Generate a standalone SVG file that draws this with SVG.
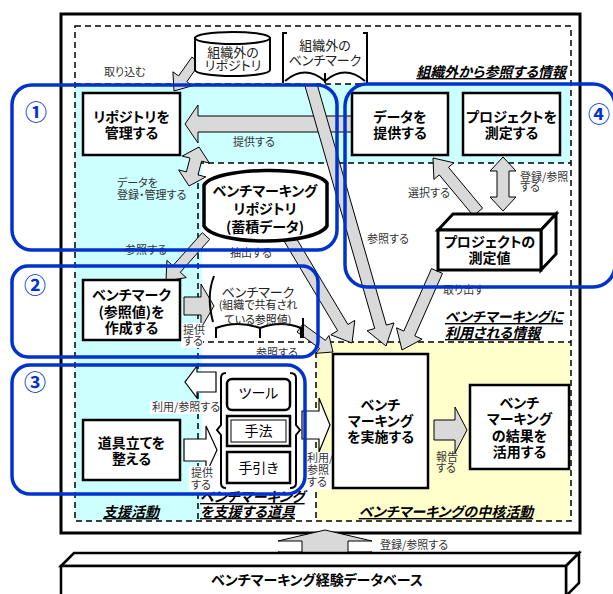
<svg xmlns="http://www.w3.org/2000/svg" width="613" height="594" viewBox="0 0 613 594">
<defs>
<style>
.t{font-family:"Noto Sans CJK JP","Noto Sans CJK SC",sans-serif;font-feature-settings:"palt"}
.nb{font-size:14px;font-weight:bold;text-anchor:middle;fill:#000}
.nn{font-size:13px;text-anchor:middle;fill:#222}
.lb{font-size:11px;fill:#333}
.sec{font-size:14px;font-weight:bold;font-style:italic;fill:#000;text-decoration:underline}
.num{font-size:22px;font-weight:bold;fill:#0033cc;text-anchor:middle}
.box{fill:#fff;stroke:#000;stroke-width:2.5}
.arr{fill:#d9d9d9;stroke:#000;stroke-width:1}
.warr{fill:#fff;stroke:#000;stroke-width:1.2}
.dash{fill:none;stroke:#000;stroke-width:1.5;stroke-dasharray:6 4}
.blue{fill:none;stroke:#0033cc;stroke-width:3.5}
.ln{fill:none;stroke:#000;stroke-width:2}
.wbg{fill:#fff}
</style>
</defs>
<rect width="613" height="594" fill="#fff"/>
<g id="background">
<rect x="61" y="14" width="519" height="519" fill="#fff" stroke="#000" stroke-width="3"/>
<path d="M75,84 H571 V163 H202 V521 H75 Z" fill="#ccffff"/>
<rect x="316" y="342" width="255" height="179" fill="#ffffcc"/>
<rect class="dash" x="75" y="26" width="496" height="495"/>
<path class="dash" d="M75,84 H571 M198,163 H571 M198,163 V521 M198,342 H571 M316,342 V521"/>
</g>
<g id="connectors">
<path class="arr" d="M200.1,62.9 L186.8,81.7 L192.5,85.7 L174,91 L172.9,71.8 L178.6,75.9 L191.9,57.1 Z"/>
<path class="arr" d="M352,116 H198 V105 L185,124 L198,143 V132 H352 Z"/>
<path class="arr" d="M199,147 L209.4,163.1 L201.6,161.1 L198,174.9 L205.8,176.9 L189,186 L178.6,169.9 L186.4,171.9 L190,158.1 L182.2,156.1 Z"/>
<path class="arr" d="M209.7,239.3 L180.3,272.3 L186.3,277.6 L166,281 L166.9,260.4 L172.9,265.7 L202.3,232.7 Z"/>
<path class="arr" d="M293.1,232.9 L347.9,324.5 L354.8,320.4 L352,343 L330.8,334.8 L337.7,330.7 L282.9,239.1 Z"/>
<path class="arr" d="M314.8,76.3 L386.3,325.1 L394,322.9 L386,346 L367,330.7 L374.7,328.5 L303.2,79.7 Z"/>
<path class="arr" d="M442.5,273.4 L414.8,335.9 L422.1,339.2 L402,350 L396.5,327.8 L403.8,331.1 L431.5,268.6 Z"/>
<path class="arr" d="M482.6,208.2 L448.5,167.3 L453.9,162.8 L433,158 L433.9,179.4 L439.3,174.9 L473.4,215.8 Z"/>
<path class="arr" d="M503,157 L516,171 H509 V197 H516 L503,211 L490,197 H497 V171 H490 Z"/>
<path class="arr" d="M184,297 H201 V284 L214,306 L201,328 V315 H184 Z"/>
<path class="arr" d="M302.9,324 L325.4,340.4 L329,335.5 L333,352 L316,353.3 L319.6,348.4 L297.1,332 Z"/>
<path class="warr" d="M216,372 H197 V366 L185,382 L197,398 V392 H216 Z"/>
<path class="warr" d="M184,439 H206 V426 L217,450 L206,474 V461 H184 Z"/>
<path class="warr" d="M302,411 H319 V398 L330,425 L319,452 V439 H302 Z"/>
<path class="arr" d="M434,420 H455 V407 L467,430 L455,453 V440 H434 Z"/>
<path class="arr" d="M325,530 L372,541 H348 V552 H372 L325,563 L278,552 H302 V541 H278 Z"/>
</g>
<g id="labels" class="t">
<text class="lb" x="104" y="76">取り込む</text>
<text class="lb" x="233" y="146">提供する</text>
<text class="lb" x="117" y="187">データを<tspan x="117" dy="12">登録・管理する</tspan></text>
<text class="lb" x="125" y="254">参照する</text>
<text class="lb" x="230" y="257">抽出する</text>
<text class="lb" x="367" y="243">参照する</text>
<text class="lb" x="408" y="197">選択する</text>
<text class="lb" x="520" y="181">登録/参照<tspan x="520" dy="10">する</tspan></text>
<text class="lb" x="443" y="294">取り出す</text>
<rect class="wbg" x="181" y="323" width="22" height="25"/>
<text class="lb" x="183" y="334">提供<tspan x="183" dy="11">する</tspan></text>
<text class="lb" x="256" y="357">参照する</text>
<rect class="wbg" x="150" y="401" width="69" height="13"/>
<text class="lb" x="152" y="411">利用/参照する</text>
<rect class="wbg" x="189" y="466" width="22" height="25"/>
<text class="lb" x="191" y="477">提供<tspan x="191" dy="12">する</tspan></text>
<rect class="wbg" x="305" y="452" width="27" height="37"/>
<text class="lb" x="307" y="462">利用/<tspan x="307" dy="12">参照</tspan><tspan x="307" dy="12">する</tspan></text>
<text class="lb" x="436" y="461">報告<tspan x="436" dy="11">する</tspan></text>
<text class="lb" x="380" y="549">登録/参照する</text>
<text class="sec" x="566" y="77" text-anchor="end">組織外から参照する情報</text>
<text class="sec" x="445" y="322">ベンチマーキングに<tspan x="445" dy="16">利用される情報</tspan></text>
<text class="sec" x="446" y="517" text-anchor="middle">ベンチマーキングの中核活動</text>
<text class="sec" x="131" y="517" text-anchor="middle">支援活動</text>
<text class="sec" x="200" y="502"><tspan style="text-decoration:none">ベンチマーキング</tspan><tspan x="200" dy="15">を支援する道具</tspan></text>
</g>
<g id="node-repo-manage">
<rect class="box" x="83" y="93" width="97" height="62"/>
<text class="t nb" x="131.5" y="122">リポジトリを<tspan x="131.5" dy="16">管理する</tspan></text>
</g>
<g id="node-ext-repo">
<path d="M195,38 V70 A37.5,6 0 0 0 270,70 V38 Z" fill="#fff" stroke="#000" stroke-width="2"/>
<ellipse cx="232.5" cy="38" rx="37.5" ry="6" fill="#fff" stroke="#000" stroke-width="2"/>
<text class="t nn" x="233" y="57">組織外の<tspan x="233" dy="13">リポジトリ</tspan></text>
</g>
<g id="node-ext-bm">
<rect x="283" y="33" width="84" height="50" fill="#fff"/>
<path class="ln" d="M287,33 H283 V83 M363,33 H367 V83 M285,81 Q305,64 325,81 Q345,64 365,81 M325,73 V83"/>
<text class="t nn" x="325" y="50">組織外の<tspan x="325" dy="15">ベンチマーク</tspan></text>
</g>
<g id="node-provide-data">
<rect class="box" x="352" y="93" width="96" height="62"/>
<text class="t nb" x="400" y="122">データを<tspan x="400" dy="16">提供する</tspan></text>
</g>
<g id="node-measure">
<rect class="box" x="463" y="93" width="97" height="62"/>
<text class="t nb" x="511.5" y="122">プロジェクトを<tspan x="511.5" dy="16">測定する</tspan></text>
</g>
<g id="node-bm-repo">
<path d="M204,185 C215,167 315,165 327,183 V226 C315,246 215,246 204,226 Z" fill="#fff" stroke="#000" stroke-width="3.5"/>
<text class="t nb" x="265" y="196">ベンチマーキング<tspan x="265" dy="18">リポジトリ</tspan><tspan x="265" dy="18">(蓄積データ)</tspan></text>
</g>
<g id="node-measured-values">
<polygon points="438,230 453,214 556,214 541,230" fill="#fff" stroke="#000" stroke-width="3"/>
<polygon points="541,230 556,214 556,254 541,270" fill="#fff" stroke="#000" stroke-width="3"/>
<rect x="438" y="230" width="103" height="40" fill="#fff" stroke="#000" stroke-width="3"/>
<text class="t nb" x="489.5" y="247">プロジェクトの<tspan x="489.5" dy="16">測定値</tspan></text>
</g>
<g id="node-make-bm">
<rect class="box" x="83" y="280" width="97" height="60"/>
<text class="t nb" x="131.5" y="300">ベンチマーク<tspan x="131.5" dy="17">(参照値)を</tspan><tspan x="131.5" dy="16">作成する</tspan></text>
</g>
<g id="node-shared-bm">
<path class="ln" d="M214,276 Q206,296 213,322 M303,318 V338 M216,338 V328 Q238,320 260,328 V338 M260,328 Q281,320 301,328 V338"/>
<text class="t nn" x="258" y="297">ベンチマーク<tspan x="258" dy="12" font-size="11">(組織で共有され</tspan><tspan x="258" dy="15" font-size="11">ている参照値)</tspan></text>
</g>
<g id="node-prepare-tools">
<rect class="box" x="83" y="420" width="97" height="60"/>
<text class="t nb" x="131.5" y="448">道具立てを<tspan x="131.5" dy="16">整える</tspan></text>
</g>
<g id="node-tools">
<path class="ln" d="M226,373 Q221,373 221,378 V425 L217,430 L221,435 V483 Q221,488 226,488 M290,373 Q296,373 296,378 V425 L300,430 L296,435 V483 Q296,488 290,488"/>
<rect x="227" y="379" width="63" height="31" rx="5" fill="#fff" stroke="#000" stroke-width="2.5"/>
<rect x="227" y="416" width="63" height="30" fill="#fff" stroke="#000" stroke-width="2.5"/>
<rect x="231" y="420" width="55" height="22" fill="none" stroke="#000" stroke-width="1"/>
<rect x="227" y="452" width="63" height="31" fill="#fff" stroke="#000" stroke-width="2.5"/>
<text class="t" x="258.5" y="398" font-size="14" text-anchor="middle">ツール</text>
<text class="t" x="258.5" y="436" font-size="14" text-anchor="middle">手法</text>
<text class="t" x="258.5" y="473" font-size="14" text-anchor="middle">手引き</text>
</g>
<g id="node-do-bm">
<rect class="box" x="333" y="354" width="95" height="134"/>
<text class="t nb" x="380.5" y="410">ベンチ<tspan x="380.5" dy="16">マーキング</tspan><tspan x="380.5" dy="16">を実施する</tspan></text>
</g>
<g id="node-use-results">
<rect class="box" x="470" y="385" width="99" height="84"/>
<text class="t nb" x="519.5" y="408">ベンチ<tspan x="519.5" dy="16">マーキング</tspan><tspan x="519.5" dy="17">の結果を</tspan><tspan x="519.5" dy="16">活用する</tspan></text>
</g>
<g id="node-db">
<polygon points="61,566 74,553 579,553 566,566" fill="#fff" stroke="#000" stroke-width="2.5"/>
<polygon points="566,566 579,553 579,583 566,596" fill="#fff" stroke="#000" stroke-width="2.5"/>
<rect x="61" y="566" width="505" height="34" fill="#fff" stroke="#000" stroke-width="2.5"/>
<text class="t nb" x="317" y="585">ベンチマーキング経験データベース</text>
</g>
<g id="groups">
<rect class="blue" x="12" y="85" width="325" height="165" rx="20"/>
<rect class="blue" x="12" y="266" width="306" height="91" rx="16"/>
<rect class="blue" x="12" y="365" width="293" height="129" rx="18"/>
<rect class="blue" x="345" y="84" width="270" height="203" rx="22"/>
<text class="t num" x="36" y="120">①</text>
<text class="t num" x="35" y="293">②</text>
<text class="t num" x="35" y="390">③</text>
<text class="t num" x="599" y="122">④</text>
</g>
</svg>
